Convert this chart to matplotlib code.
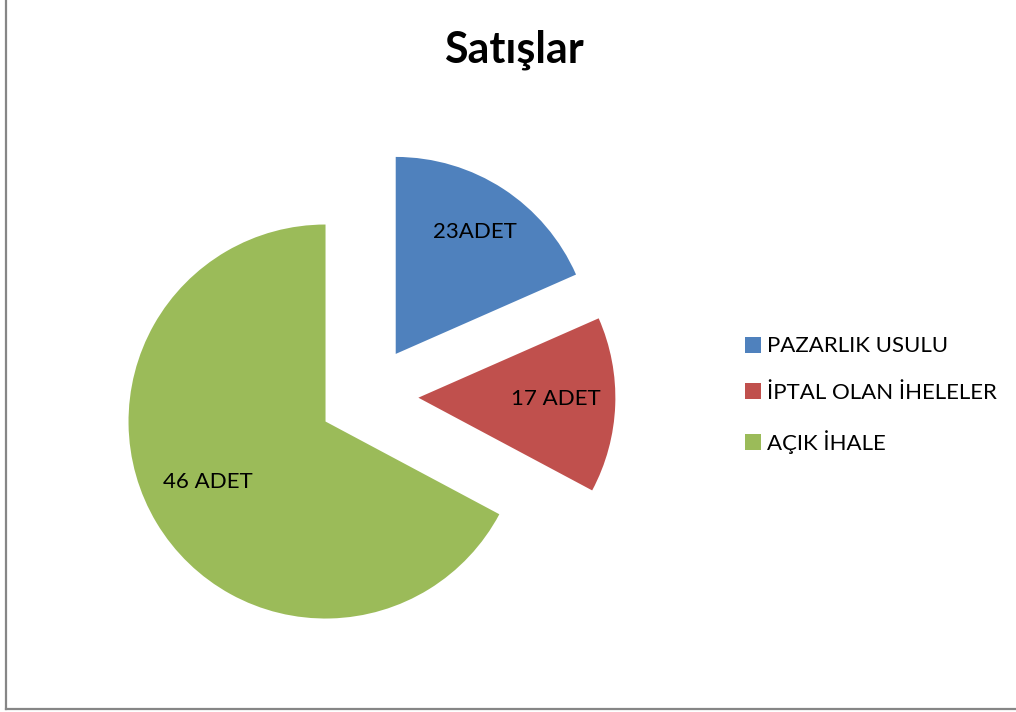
import matplotlib
matplotlib.use('Agg')
import matplotlib.pyplot as plt
from matplotlib.lines import Line2D
import numpy as np

plt.rcParams['font.family'] = ['Lato', 'DejaVu Sans']

# data
categories = ['PAZARLIK USULU', 'İPTAL OLAN İHELELER', 'AÇIK İHALE']
slice_sizes = [18.4, 14.4, 67.2]          # share of the circle as drawn
slice_labels = ['23ADET', '17 ADET', '46 ADET']
colors = ['#4F81BD', '#C0504D', '#9BBB59']

# label position per slice: (angle in deg from slice vertex, fraction of radius)
label_pos = [(57.0, 0.74), (-0.5, 0.70), (207.1, 0.67)]

W, H = 1016, 712
fig = plt.figure(figsize=(W / 100, H / 100), dpi=100)
ax = fig.add_axes([0, 0, 1, 1])

R = 197
center = (368.4, H - 395.8)
# explode in matplotlib is an absolute offset in data units
wedges, _ = ax.pie(slice_sizes, colors=colors, startangle=90, counterclock=False,
                   radius=R, center=center, explode=[50] * 3,
                   wedgeprops=dict(linewidth=0), frame=True)
ax.set_xlim(0, W)
ax.set_ylim(0, H)
ax.set_aspect('equal')
ax.axis('off')

for w, txt, (ang, frac) in zip(wedges, slice_labels, label_pos):
    cx, cy = w.center
    a = np.deg2rad(ang)
    ax.text(cx + frac * R * np.cos(a), cy + frac * R * np.sin(a), txt,
            ha='center', va='center', fontsize=16, color='black')

fig.text(514 / W, 1 - 63 / H, 'Satışlar', ha='center', va='baseline',
         fontsize=31, fontweight='bold')

leg = fig.legend(wedges, categories, loc='center left',
                 bbox_to_anchor=(745 / W, 1 - 395 / H), bbox_transform=fig.transFigure,
                 frameon=False, fontsize=16, handlelength=0.74, handleheight=0.74,
                 handletextpad=0.27, labelspacing=1.2, borderpad=0, borderaxespad=0)

# chart area border (only left and bottom edges visible)
fig.add_artist(Line2D([5.5 / W, 5.5 / W], [1 - 709 / H, 1.01], transform=fig.transFigure,
                      color='#868686', lw=1.6))
fig.add_artist(Line2D([5.5 / W, 1.01], [1 - 709 / H, 1 - 709 / H], transform=fig.transFigure,
                      color='#868686', lw=1.6))

fig.savefig('out.png', dpi=100)
